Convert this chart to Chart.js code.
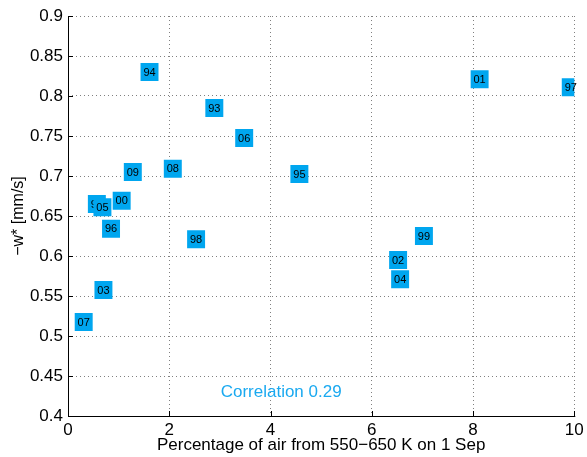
<!DOCTYPE html>
<html>
<head>
<meta charset="utf-8">
<title>w* vs air fraction</title>
<script src="https://cdn.jsdelivr.net/npm/chart.js@4.4.0/dist/chart.umd.min.js"></script>
<style>
  html, body { margin: 0; padding: 0; background: #fff; }
  #wrap { width: 587px; height: 457px; }
</style>
</head>
<body>
<div id="wrap"><canvas id="c" width="587" height="457"></canvas></div>
<script>
// years (labels in the boxes)
var years = ["92","93","94","95","96","97","98","99","00","01","02","03","04","05","06","07","08","09"];
var pctAir = [0.57, 2.89, 1.61, 4.57, 0.85, 9.93, 2.53, 7.03, 1.06, 8.13, 6.52, 0.70, 6.56, 0.68, 3.48, 0.31, 2.07, 1.28];
var wStar  = [0.665, 0.785, 0.830, 0.7025, 0.634, 0.811, 0.621, 0.625, 0.669, 0.821, 0.595, 0.5575, 0.571, 0.661, 0.7475, 0.5175, 0.709, 0.705];
var xTicks = [0, 2, 4, 6, 8, 10];
var yTicks = [0.4, 0.45, 0.5, 0.55, 0.6, 0.65, 0.7, 0.75, 0.8, 0.85, 0.9];
var corrText = "Correlation 0.29";
var corrPos = [4.21, 0.429];

var boxColor = "#00A6EF";
var FONT = "'Liberation Sans', Arial, sans-serif";

var datasets = years.map(function (y, i) {
  return {
    label: y,
    data: [{ x: pctAir[i], y: wStar[i] }],
    pointStyle: "rect",
    pointRadius: 12.7,
    pointHoverRadius: 12.7,
    backgroundColor: boxColor,
    borderColor: boxColor,
    borderWidth: 0,
    order: -i
  };
});

// year text on top of each box, drawn right after its own box
var boxLabels = {
  id: "boxLabels",
  afterDatasetDraw: function (chart, args) {
    var ctx = chart.ctx;
    var pt = args.meta.data[0];
    ctx.save();
    ctx.font = "11px " + FONT;
    ctx.fillStyle = "#000";
    ctx.textAlign = "center";
    ctx.textBaseline = "middle";
    ctx.fillText(years[args.index], pt.x, pt.y + 0.5);
    ctx.restore();
  }
};

// axis lines, inward ticks and the correlation note
var frame = {
  id: "frame",
  afterDraw: function (chart) {
    var ctx = chart.ctx, a = chart.chartArea;
    var xs = chart.scales.x, ys = chart.scales.y;
    ctx.save();
    ctx.strokeStyle = "#000";
    ctx.lineWidth = 1;
    ctx.beginPath();
    ctx.moveTo(a.left + 0.5, a.top);
    ctx.lineTo(a.left + 0.5, a.bottom + 0.5);
    ctx.lineTo(a.right + 1, a.bottom + 0.5);
    xTicks.forEach(function (v) {
      var px = Math.round(xs.getPixelForValue(v)) + 0.5;
      ctx.moveTo(px, a.bottom); ctx.lineTo(px, a.bottom - 5);
    });
    yTicks.forEach(function (v) {
      var py = Math.round(ys.getPixelForValue(v)) + 0.5;
      ctx.moveTo(a.left, py); ctx.lineTo(a.left + 5, py);
    });
    ctx.stroke();
    ctx.font = "17px " + FONT;
    ctx.fillStyle = "#1aa9f0";
    ctx.textAlign = "center";
    ctx.textBaseline = "middle";
    ctx.fillText(corrText, xs.getPixelForValue(corrPos[0]), ys.getPixelForValue(corrPos[1]));
    ctx.restore();
  }
};

new Chart(document.getElementById("c"), {
  type: "scatter",
  data: { datasets: datasets },
  plugins: [boxLabels, frame],
  options: {
    responsive: false,
    animation: false,
    events: [],
    layout: { padding: { top: 16, right: 11, left: 0, bottom: 0 } },
    plugins: { legend: { display: false }, tooltip: { enabled: false } },
    scales: {
      x: {
        type: "linear",
        min: 0, max: 10,
        afterBuildTicks: function (s) { s.ticks = xTicks.map(function (v) { return { value: v }; }); },
        afterFit: function (s) { s.height = 41; s.paddingLeft = 0; s.paddingRight = 0; },
        border: { display: false, dash: [1, 3] },
        grid: { color: "#808080", lineWidth: 1, drawTicks: false },
        ticks: { color: "#000", font: { family: FONT, size: 17 }, padding: 4, maxRotation: 0 },
        title: { display: true, text: "Percentage of air from 550\u2212650 K on 1 Sep", color: "#000",
                 font: { family: FONT, size: 17 }, padding: { top: 0, bottom: 1 } }
      },
      y: {
        type: "linear",
        min: 0.4, max: 0.9,
        afterBuildTicks: function (s) { s.ticks = yTicks.map(function (v) { return { value: v }; }); },
        afterFit: function (s) { s.width = 68; s.paddingTop = 0; s.paddingBottom = 0; },
        border: { display: false, dash: [1, 3] },
        grid: { color: "#808080", lineWidth: 1, drawTicks: false },
        ticks: { color: "#000", font: { family: FONT, size: 17 }, padding: 5,
                 callback: function (v) { return String(Math.round(v * 100) / 100); } },
        title: { display: true, text: "\u2212w* [mm/s]", color: "#000",
                 font: { family: FONT, size: 16 }, padding: { top: 9, bottom: 0 } }
      }
    }
  }
});
</script>
</body>
</html>
